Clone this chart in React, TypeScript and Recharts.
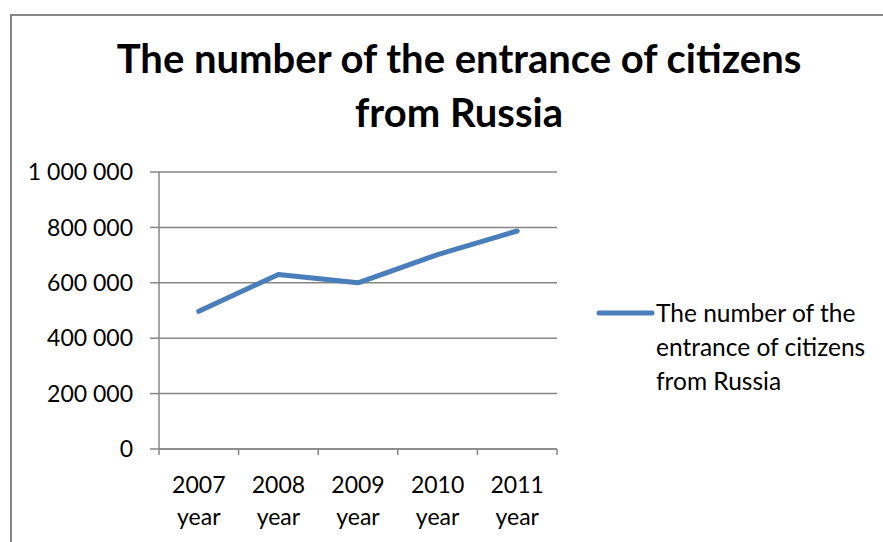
import { CartesianGrid, Line, LineChart, XAxis, YAxis } from 'recharts'

// Въезд граждан из России по годам
const years = ['2007 year', '2008 year', '2009 year', '2010 year', '2011 year']
const entrances = [497000, 630000, 600000, 702000, 787000]
const yTicks = [0, 200000, 400000, 600000, 800000, 1000000]
const seriesName = 'The number of the entrance of citizens from Russia'
const legendLines = ['The number of the', 'entrance of citizens', 'from Russia']

const data = years.map((year, i) => ({ year, value: entrances[i] }))

const FONT = 'Lato, "Open Sans", sans-serif'
const GRAY = '#868686'
const BLUE = '#4A7EBB'

const fmt = (v: number) => v.toLocaleString('en-US').replace(/,/g, ' ')

// eslint-disable-next-line @typescript-eslint/no-explicit-any
function YearTick(props: any) {
  const { x, y, payload, index, visibleTicksCount } = props
  const half = payload.offset || 0
  const [num, word] = String(payload.value).split(' ')
  const last = index === visibleTicksCount - 1
  return (
    <g>
      <line x1={x - half} x2={x - half} y1={y} y2={y + 6} stroke={GRAY} strokeWidth={1.5} />
      {last && <line x1={x + half} x2={x + half} y1={y} y2={y + 6} stroke={GRAY} strokeWidth={1.5} />}
      <text x={x} y={y + 44} textAnchor="middle" fontSize={23} fontFamily={FONT} fill="#000">
        {num}
      </text>
      <text x={x} y={y + 76} textAnchor="middle" fontSize={23} fontFamily={FONT} fill="#000">
        {word}
      </text>
    </g>
  )
}

export default function App() {
  return (
    <div style={{ position: 'absolute', left: 0, top: 0, width: 883, height: 542, background: '#fff', overflow: 'hidden' }}>
      {/* рамка диаграммы */}
      <div
        style={{
          position: 'absolute',
          left: 10,
          top: 14,
          width: 900,
          height: 600,
          borderLeft: `2px solid ${GRAY}`,
          borderTop: `2px solid ${GRAY}`,
        }}
      />
      <div
        style={{
          position: 'absolute',
          left: 0,
          top: 31,
          width: 918,
          textAlign: 'center',
          fontFamily: FONT,
          fontWeight: 700,
          fontSize: 40,
          lineHeight: '54px',
          color: '#000',
        }}
      >
        The number of the entrance of citizens
        <br />
        from Russia
      </div>
      <LineChart
        width={883}
        height={542}
        data={data}
        margin={{ top: 172, right: 326, bottom: 0, left: 0 }}
        style={{ position: 'absolute', left: 0, top: 0 }}
      >
        <CartesianGrid horizontal vertical={false} stroke={GRAY} strokeWidth={1.5} />
        <XAxis
          dataKey="year"
          scale="band"
          height={93}
          tickSize={0}
          tickMargin={0}
          tickLine={false}
          axisLine={{ stroke: GRAY, strokeWidth: 1.5 }}
          tick={<YearTick />}
          interval={0}
        />
        <YAxis
          width={159}
          domain={[0, 1000000]}
          ticks={yTicks}
          tickFormatter={fmt}
          tickSize={9}
          tickMargin={17}
          tickLine={{ stroke: GRAY, strokeWidth: 1.5 }}
          axisLine={{ stroke: GRAY, strokeWidth: 1.5 }}
          tick={{ fontSize: 23, fontFamily: FONT, fill: '#000' }}
        />
        <Line
          type="linear"
          dataKey="value"
          name={seriesName}
          stroke={BLUE}
          strokeWidth={5}
          strokeLinecap="round"
          strokeLinejoin="round"
          dot={false}
          isAnimationActive={false}
        />
      </LineChart>
      {/* легенда */}
      <div style={{ position: 'absolute', left: 594, top: 296, display: 'flex', alignItems: 'flex-start', fontFamily: FONT }}>
        <svg width={62} height={34} style={{ display: 'block' }}>
          <line x1={5} x2={58} y1={17} y2={17} stroke={BLUE} strokeWidth={5} strokeLinecap="round" />
        </svg>
        <div style={{ fontSize: 24.5, lineHeight: '34px', color: '#000', whiteSpace: 'nowrap' }}>
          {legendLines.map((l) => (
            <div key={l}>{l}</div>
          ))}
        </div>
      </div>
    </div>
  )
}
